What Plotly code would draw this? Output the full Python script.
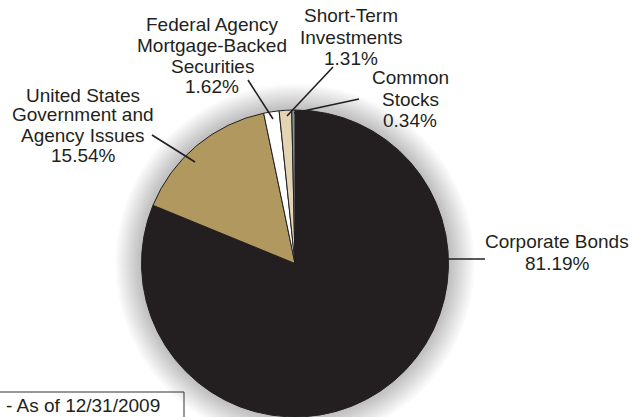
import plotly.graph_objects as go

# ---- data ----
categories = ["Corporate Bonds",
              "United States Government and Agency Issues",
              "Federal Agency Mortgage-Backed Securities",
              "Short-Term Investments",
              "Common Stocks"]
values = [81.19, 15.54, 1.62, 1.31, 0.34]
label_lines = [["Corporate Bonds"],
               ["United States", "Government and", "Agency Issues"],
               ["Federal Agency", "Mortgage-Backed", "Securities"],
               ["Short-Term", "Investments"],
               ["Common", "Stocks"]]
note_text = "- As of 12/31/2009"

# ---- styling ----
W, H = 644, 417
colors = ["#231f20", "#b0985e", "#ffffff", "#e3d4b4", "#8c8e91"]
FONT = "Liberation Sans, Arial, Helvetica, sans-serif"
TXT = "#231f20"
FS = 19

CX, CY, R = 295.0, 263.5, 153.5


def px(x):
    return x / W


def py(y):
    return (H - y) / H


fig = go.Figure(go.Pie(
    labels=categories, values=values, sort=False, direction="clockwise",
    rotation=0, marker=dict(colors=colors, line=dict(color="#231f20", width=1)),
    textinfo="none", hoverinfo="label+percent",
    domain=dict(x=[px(CX - R), px(CX + R)], y=[0, py(CY - R)]),
))

shapes = []
# soft halo around the pie
for i in range(13):
    rr = R + 26 - 2 * i
    shapes.append(dict(type="circle", xref="paper", yref="paper", layer="below",
                       x0=px(CX - rr), x1=px(CX + rr), y0=py(CY + rr), y1=py(CY - rr),
                       line=dict(width=0), fillcolor="rgba(0,0,0,0.019)"))

# label placement: (center x, y of first line center, line spacing), leader line
label_pos = [(557, 242, 21), (83, 95, 20), (212, 25, 20.5), (351, 16, 21), (410, 78, 21.5)]
leaders = [((445, 259), (485, 259)),
           ((152, 135), (195, 162)),
           ((248, 80), (273, 119)),
           ((333, 67), (287, 116)),
           ((359, 99), (294, 113))]

annotations = []
for lines, v, (lx, ly, dy), ((x0, y0), (x1, y1)) in zip(label_lines, values, label_pos, leaders):
    for k, t in enumerate(lines + [f"{v:.2f}%"]):
        annotations.append(dict(text=t, x=px(lx), y=py(ly + k * dy), xref="paper", yref="paper",
                                xanchor="center", yanchor="middle", showarrow=False,
                                font=dict(family=FONT, size=FS, color=TXT)))
    shapes.append(dict(type="line", xref="paper", yref="paper",
                       x0=px(x0), y0=py(y0), x1=px(x1), y1=py(y1),
                       line=dict(color=TXT, width=1.6)))

# note box at bottom-left
shapes.append(dict(type="rect", xref="paper", yref="paper",
                   x0=px(-3), x1=px(184), y0=py(425), y1=py(392),
                   line=dict(color="#333333", width=1), fillcolor="rgba(0,0,0,0)"))
annotations.append(dict(text=note_text, x=px(4), y=py(405.5), xref="paper", yref="paper",
                        xanchor="left", yanchor="middle", showarrow=False,
                        font=dict(family=FONT, size=FS, color=TXT)))

fig.update_layout(width=W, height=H, margin=dict(l=0, r=0, t=0, b=0),
                  paper_bgcolor="white", plot_bgcolor="white", showlegend=False,
                  shapes=shapes, annotations=annotations)

fig.write_html("out.html")
